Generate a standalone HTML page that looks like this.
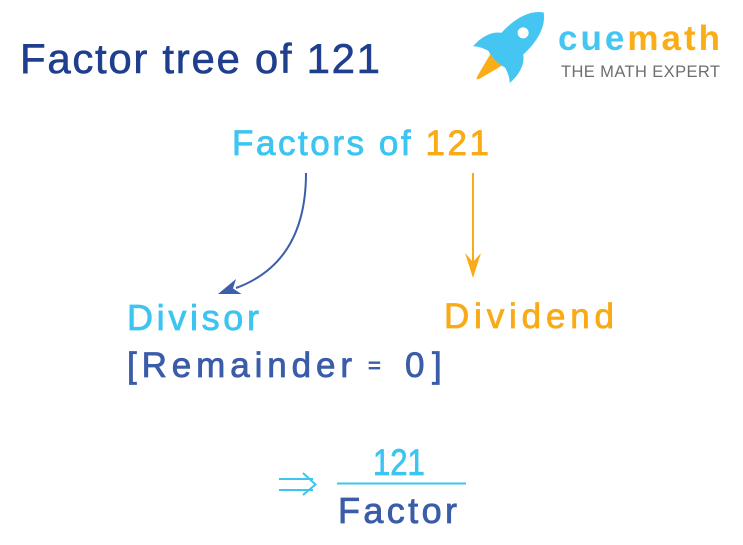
<!DOCTYPE html>
<html>
<head>
<meta charset="utf-8">
<style>
  html, body { margin: 0; padding: 0; background: #ffffff; }
  body { width: 743px; height: 545px; overflow: hidden; }
  svg { display: block; }
  text { font-family: "Liberation Sans", "DejaVu Sans", sans-serif; }
</style>
</head>
<body>
<svg width="743" height="545" viewBox="0 0 743 545" xmlns="http://www.w3.org/2000/svg">
  <rect width="743" height="545" fill="#ffffff"/>

  <!-- Title -->
  <text x="20" y="73" font-size="42" fill="#1f3f8e" stroke="#1f3f8e" stroke-width="0.6" textLength="360" lengthAdjust="spacing">Factor tree of 121</text>

  <!-- Logo: rocket -->
  <g transform="translate(509,47) rotate(45)">
    <path d="M -9 15 Q 0 19 9 15 L 2 42 Q 0 49 -2 42 Z" fill="#fbad18"/>
    <path d="M -13 -6 C -22 -2 -27 10 -26 25 C -22 21 -17 19 -11 17 Z" fill="#45c5f1"/>
    <path d="M 13 -6 C 22 -2 27 10 26 25 C 22 21 17 19 11 17 Z" fill="#45c5f1"/>
    <path d="M 0 -49 C 14 -39 17 -18 15 2 L 13 17 Q 0 21 -13 17 L -15 2 C -17 -18 -14 -39 0 -49 Z" fill="#45c5f1"/>
    <circle cx="0" cy="-20" r="5.5" fill="#ffffff"/>
  </g>

  <!-- Logo text -->
  <text x="558" y="50" font-size="35" font-weight="bold" textLength="162" lengthAdjust="spacing"><tspan fill="#45c5f1">cue</tspan><tspan fill="#fbad18">math</tspan></text>
  <text x="561" y="77" font-size="16.5" fill="#6d6e71" textLength="159" lengthAdjust="spacing">THE MATH EXPERT</text>

  <!-- Factors of 121 -->
  <text x="232" y="155" font-size="35" stroke-width="0.8" textLength="257" lengthAdjust="spacing"><tspan fill="#3cc5f1" stroke="#3cc5f1">Factors of </tspan><tspan fill="#f9ab17" stroke="#f9ab17">121</tspan></text>

  <!-- Blue curved arrow -->
  <path d="M 306 173 C 306 230 285 270 236 288" fill="none" stroke="#3c5eab" stroke-width="2"/>
  <polygon points="218,294 236,279 233,288.5 241.5,294" fill="#3c5eab"/>

  <!-- Orange straight arrow -->
  <line x1="473" y1="173" x2="473" y2="266" stroke="#f9ab17" stroke-width="2"/>
  <polygon points="473,278 465,253 473,262 481,253" fill="#f9ab17"/>

  <!-- Divisor -->
  <text x="127" y="330" font-size="36" fill="#3cc5f1" stroke="#3cc5f1" stroke-width="0.8" textLength="132" lengthAdjust="spacing">Divisor</text>

  <!-- Dividend -->
  <text x="444" y="328" font-size="35" fill="#f9ab17" stroke="#f9ab17" stroke-width="0.8" textLength="170" lengthAdjust="spacing">Dividend</text>

  <!-- [Remainder = 0] -->
  <g fill="#3a5ca9" stroke="#3a5ca9" stroke-width="0.8">
    <text x="127" y="377" font-size="35" textLength="225" lengthAdjust="spacing">[Remainder</text>
    <text x="368" y="373" font-size="22">=</text>
    <text x="405" y="377" font-size="35">0</text>
    <text x="432" y="377" font-size="35">]</text>
  </g>

  <!-- Implies arrow -->
  <g stroke="#3cc5f1" stroke-width="2" fill="none" stroke-linecap="butt">
    <line x1="279" y1="479" x2="313" y2="479"/>
    <line x1="279" y1="490" x2="313" y2="490"/>
    <polyline points="303,473 315.5,484.5 303,495"/>
  </g>

  <!-- Fraction -->
  <g transform="translate(373,475) scale(0.84,1)">
    <text x="0" y="0" font-size="37" fill="#3cc5f1" stroke="#3cc5f1" stroke-width="0.8">121</text>
  </g>
  <line x1="337" y1="483.5" x2="466" y2="483.5" stroke="#3cc5f1" stroke-width="2"/>
  <text x="338" y="523" font-size="36" fill="#3a5ca9" stroke="#3a5ca9" stroke-width="0.8" textLength="119" lengthAdjust="spacing">Factor</text>
</svg>
</body>
</html>
